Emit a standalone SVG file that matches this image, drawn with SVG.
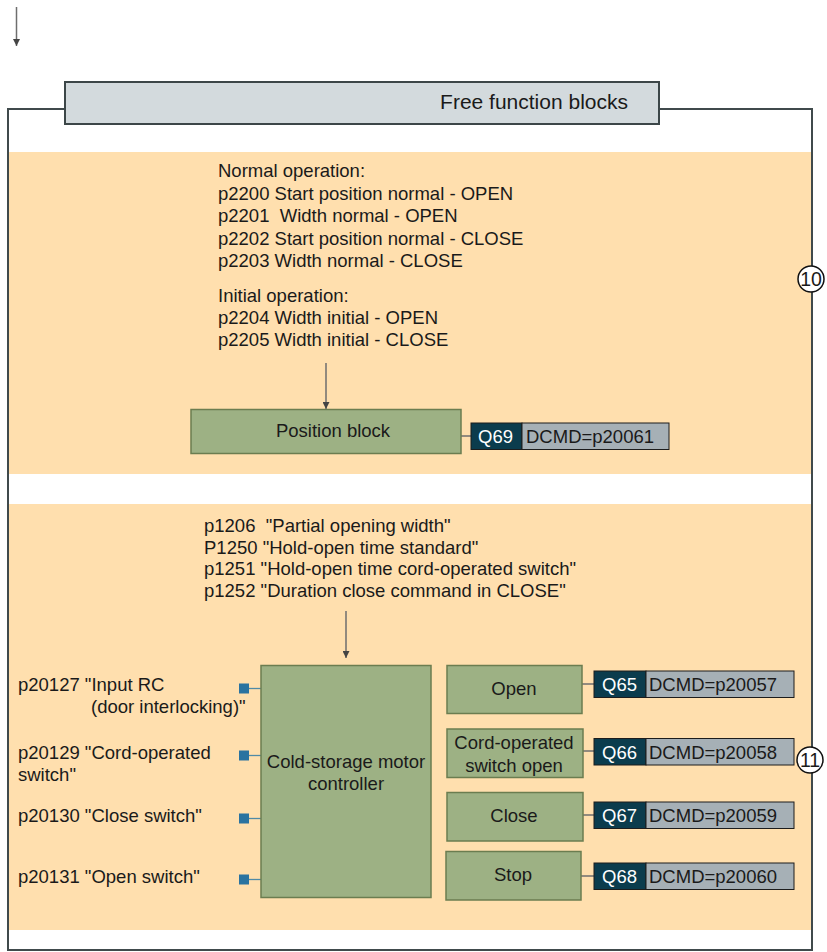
<svg xmlns="http://www.w3.org/2000/svg" width="827" height="952" viewBox="0 0 827 952">
<defs>
<style>
text{font-family:"Liberation Sans",Arial,sans-serif;font-size:18.5px;fill:#1a1a1a;white-space:pre}
.c{text-anchor:middle}
.w{fill:#ffffff}
.blk{fill:#9db184;stroke:#6b7d50;stroke-width:1.5}
.qd{fill:#0b3c4d;stroke:#1c1c1c;stroke-width:1}
.qg{fill:#a6b0b6;stroke:#1c1c1c;stroke-width:1}
.ln{stroke:#6e6e6e;stroke-width:1.5;fill:none}
.bl{stroke:#4f8aa6;stroke-width:1.3;fill:none}
.sq{fill:#2a73a0}
.bg{fill:#ffdfae}
.num{fill:#ffffff;stroke:#111;stroke-width:1.5}
</style>
<marker id="ah" viewBox="0 0 10 10" refX="10" refY="5" markerWidth="7" markerHeight="7" markerUnits="userSpaceOnUse" orient="auto">
<path d="M0 0 L10 5 L0 10 z" fill="#444"/>
</marker>
</defs>
<rect width="827" height="952" fill="#ffffff"/>

<g id="frame">
<path d="M65 109 H8 V950 H812 V109 H659" fill="none" stroke="#404a4c" stroke-width="2"/>
<rect class="bg" x="9" y="152" width="802" height="322"/>
<rect class="bg" x="9" y="504" width="802" height="426"/>
</g>

<g id="title">
<rect x="65" y="82" width="594" height="42" fill="#d3dadd" stroke="#3c4648" stroke-width="2"/>
<text x="628" y="109" style="font-size:21px" text-anchor="end">Free function blocks</text>
</g>

<g id="connectors">
<line class="ln" x1="16.5" y1="7" x2="16.5" y2="46" stroke="#555" marker-end="url(#ah)"/>
<line class="ln" x1="326" y1="363" x2="326" y2="409" marker-end="url(#ah)"/>
<line class="ln" x1="346" y1="611" x2="346" y2="658" marker-end="url(#ah)"/>
<line class="ln" x1="461" y1="436" x2="471" y2="436"/>
<line class="ln" x1="582" y1="684" x2="594" y2="684"/>
<line class="ln" x1="583" y1="751" x2="594" y2="751"/>
<line class="ln" x1="583" y1="815" x2="594" y2="815"/>
<line class="ln" x1="581" y1="876" x2="594" y2="876"/>
<line class="bl" x1="249" y1="688.5" x2="261" y2="688.5"/>
<line class="bl" x1="249" y1="755.5" x2="261" y2="755.5"/>
<line class="bl" x1="249" y1="818.5" x2="261" y2="818.5"/>
<line class="bl" x1="249" y1="879.5" x2="261" y2="879.5"/>
</g>

<g id="params-position">
<text x="218" y="177">Normal operation:</text>
<text x="218" y="199.5">p2200 Start position normal - OPEN</text>
<text x="218" y="222">p2201&#160; Width normal - OPEN</text>
<text x="218" y="244.5">p2202 Start position normal - CLOSE</text>
<text x="218" y="266.5">p2203 Width normal - CLOSE</text>
<text x="218" y="302">Initial operation:</text>
<text x="218" y="324">p2204 Width initial - OPEN</text>
<text x="218" y="346">p2205 Width initial - CLOSE</text>
</g>

<g id="position-block">
<rect class="blk" x="191" y="409.5" width="270" height="44"/>
<text class="c" x="333" y="437">Position block</text>
</g>

<g id="q69">
<rect class="qd" x="471" y="423" width="51" height="26.5"/>
<rect class="qg" x="522" y="423" width="147" height="26.5"/>
<text class="w" x="478" y="443">Q69</text>
<text x="526" y="443">DCMD=p20061</text>
</g>

<g id="marker-10">
<circle class="num" cx="811" cy="279" r="13"/>
<text class="c" x="811" y="286" style="font-size:19.5px">10</text>
</g>

<g id="params-motor">
<text x="204" y="532">p1206&#160; "Partial opening width"</text>
<text x="204" y="553.5">P1250 "Hold-open time standard"</text>
<text x="204" y="575">p1251 "Hold-open time cord-operated switch"</text>
<text x="204" y="597">p1252 "Duration close command in CLOSE"</text>
</g>

<g id="inputs">
<text x="18" y="691">p20127 "Input RC</text>
<text x="91" y="713">(door interlocking)"</text>
<rect class="sq" x="239" y="683.5" width="10" height="10"/>
<text x="18" y="759">p20129 "Cord-operated</text>
<text x="18" y="781">switch"</text>
<rect class="sq" x="239" y="750.5" width="10" height="10"/>
<text x="18" y="822">p20130 "Close switch"</text>
<rect class="sq" x="239" y="813.5" width="10" height="10"/>
<text x="18" y="883">p20131 "Open switch"</text>
<rect class="sq" x="239" y="874.5" width="10" height="10"/>
</g>

<g id="motor-controller">
<rect class="blk" x="261" y="665.5" width="170" height="232"/>
<text class="c" x="346" y="768">Cold-storage motor</text>
<text class="c" x="346" y="790">controller</text>
</g>

<g id="open">
<rect class="blk" x="447" y="665.5" width="135" height="48"/>
<text class="c" x="514" y="695">Open</text>
</g>
<g id="cord-open">
<rect class="blk" x="447" y="729" width="136" height="48.5"/>
<text class="c" x="514" y="749">Cord-operated</text>
<text class="c" x="514" y="772">switch open</text>
</g>
<g id="close">
<rect class="blk" x="447" y="792.5" width="136" height="48.5"/>
<text class="c" x="514" y="822">Close</text>
</g>
<g id="stop">
<rect class="blk" x="446" y="851.5" width="135" height="48.5"/>
<text class="c" x="513" y="881">Stop</text>
</g>

<g id="q65">
<rect class="qd" x="594" y="671" width="52" height="26.5"/>
<rect class="qg" x="646" y="671" width="148" height="26.5"/>
<text class="w" x="602" y="691">Q65</text>
<text x="649" y="691">DCMD=p20057</text>
</g>
<g id="q66">
<rect class="qd" x="594" y="738.5" width="52" height="26.5"/>
<rect class="qg" x="646" y="738.5" width="148" height="26.5"/>
<text class="w" x="602" y="758.5">Q66</text>
<text x="649" y="758.5">DCMD=p20058</text>
</g>
<g id="q67">
<rect class="qd" x="594" y="802" width="52" height="26.5"/>
<rect class="qg" x="646" y="802" width="148" height="26.5"/>
<text class="w" x="602" y="822">Q67</text>
<text x="649" y="822">DCMD=p20059</text>
</g>
<g id="q68">
<rect class="qd" x="594" y="863" width="52" height="26.5"/>
<rect class="qg" x="646" y="863" width="148" height="26.5"/>
<text class="w" x="602" y="883">Q68</text>
<text x="649" y="883">DCMD=p20060</text>
</g>

<g id="marker-11">
<circle class="num" cx="810" cy="760" r="13"/>
<text class="c" x="810" y="767" style="font-size:19.5px">11</text>
</g>
</svg>
